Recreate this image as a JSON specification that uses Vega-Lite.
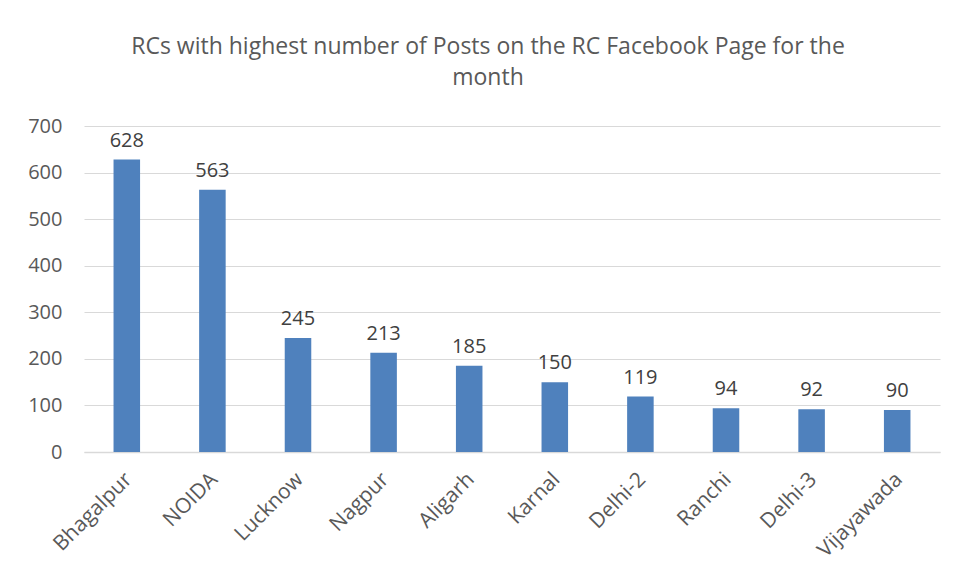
{
  "$schema": "https://vega.github.io/schema/vega-lite/v6.json",
  "width": 856,
  "height": 326,
  "autosize": "none",
  "padding": {"left": 84, "top": 126, "right": 16, "bottom": 130},
  "background": "white",
  "title": {
    "text": ["RCs with highest number of Posts on the RC Facebook Page for the", "month"],
    "anchor": "middle",
    "dx": -24,
    "offset": 26,
    "font": "Open Sans",
    "fontSize": 23,
    "fontWeight": "normal",
    "color": "#595959",
    "lineHeight": 31
  },
  "data": {
    "values": [
      {"rc": "Bhagalpur", "posts": 628},
      {"rc": "NOIDA", "posts": 563},
      {"rc": "Lucknow", "posts": 245},
      {"rc": "Nagpur", "posts": 213},
      {"rc": "Aligarh", "posts": 185},
      {"rc": "Karnal", "posts": 150},
      {"rc": "Delhi-2", "posts": 119},
      {"rc": "Ranchi", "posts": 94},
      {"rc": "Delhi-3", "posts": 92},
      {"rc": "Vijayawada", "posts": 90}
    ]
  },
  "config": {
    "view": {"stroke": null},
    "font": "Open Sans"
  },
  "encoding": {
    "x": {
      "field": "rc",
      "type": "nominal",
      "sort": null,
      "scale": {"paddingInner": 0.69, "paddingOuter": 0.345},
      "axis": {
        "title": null,
        "labelAngle": -45,
        "labelAlign": "right",
        "labelBaseline": "middle",
        "labelFontSize": 21,
        "labelColor": "#595959",
        "labelFont": "Open Sans",
        "labelPadding": 24,
        "labelOffset": 2,
        "ticks": false,
        "domain": true,
        "domainColor": "#d9d9d9",
        "domainWidth": 1.5
      }
    },
    "y": {
      "field": "posts",
      "type": "quantitative",
      "scale": {"domain": [0, 700]},
      "axis": {
        "title": null,
        "values": [0, 100, 200, 300, 400, 500, 600, 700],
        "labelFontSize": 20,
        "labelColor": "#595959",
        "labelFont": "Open Sans",
        "labelPadding": 22,
        "ticks": false,
        "domain": false,
        "gridColor": "#d9d9d9",
        "gridWidth": 1
      }
    }
  },
  "layer": [
    {"mark": {"type": "bar", "color": "#4F81BD"}},
    {
      "mark": {"type": "text", "dy": -19, "fontSize": 20, "color": "#404040", "font": "Open Sans"},
      "encoding": {"text": {"field": "posts", "type": "quantitative"}}
    }
  ]
}
